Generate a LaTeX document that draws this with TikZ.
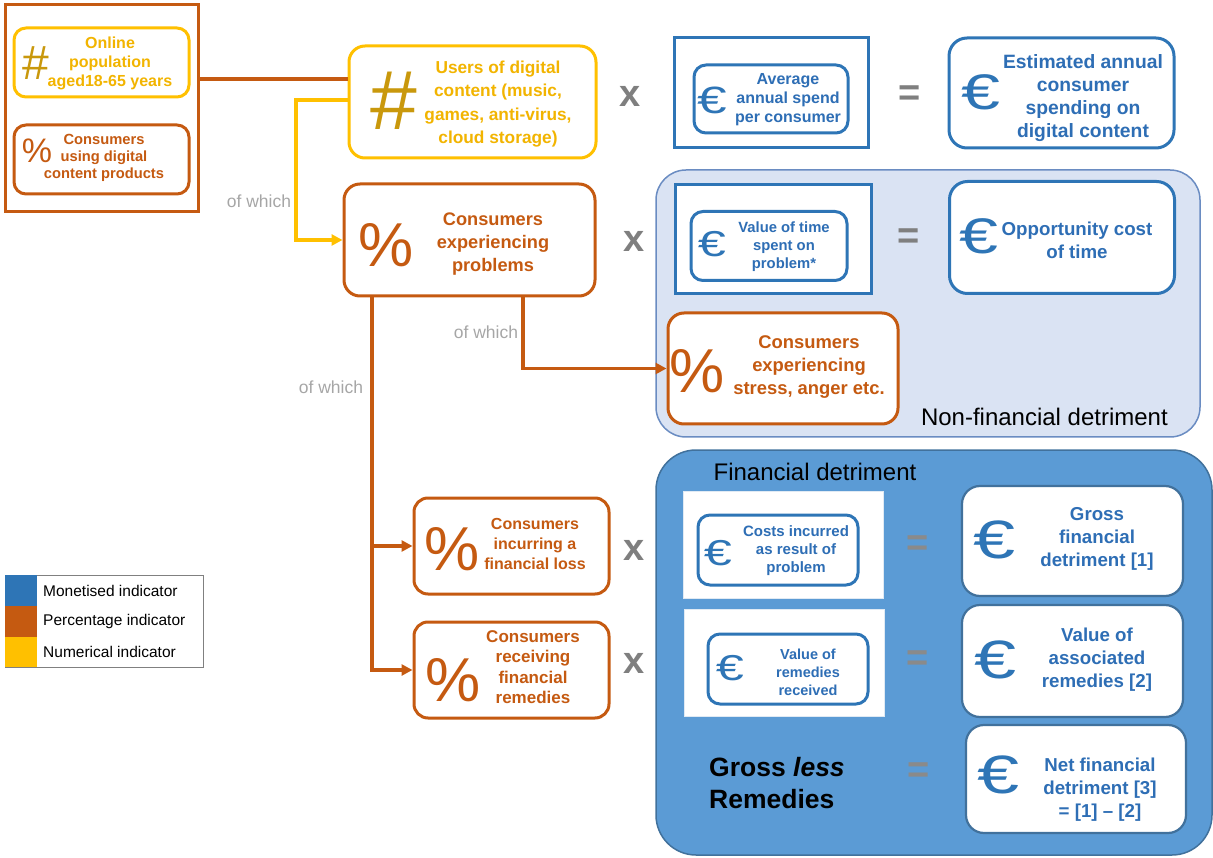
\documentclass[tikz,border=0pt]{standalone}
\usepackage{fontspec}
\setmainfont{Liberation Sans}
\usetikzlibrary{arrows.meta}
\definecolor{brn}{HTML}{C55A11}
\definecolor{ylw}{HTML}{FFC000}
\definecolor{ytx}{HTML}{F2B400}
\definecolor{hsh}{HTML}{C9980C}
\definecolor{blu}{HTML}{2E75B6}
\definecolor{btx}{HTML}{2E6EB5}
\definecolor{nffill}{HTML}{DAE3F3}
\definecolor{nfline}{HTML}{6A8CC2}
\definecolor{ffill}{HTML}{5B9BD5}
\definecolor{fline}{HTML}{41719C}
\definecolor{opgray}{HTML}{7F7F7F}
\definecolor{opgray2}{HTML}{8A8A8A}
\definecolor{owgray}{HTML}{A6A6A6}
\newcommand{\fsz}[2]{\fontsize{#1}{#2}\selectfont}
\newcommand{\eur}{\scalebox{1.4}[1]{€}}
\begin{document}
\begin{tikzpicture}[x=1pt,y=-1pt,
  rbox/.style={draw, rounded corners=14pt, line width=3pt, fill=white, inner sep=0pt},
  sbox/.style={draw, line width=3pt, fill=white, inner sep=0pt},
  txt/.style={align=center, inner sep=0pt},
  sym/.style={inner sep=0pt},
  conn/.style={line width=3.2pt},
  tip/.style={-{Triangle[length=11pt,width=11pt]}},
  opx/.style={inner sep=0pt, font=\bfseries\fsz{38}{38}, text=opgray},
  ofw/.style={inner sep=0pt, font=\fsz{17.5}{18}, text=owgray}
]
\useasboundingbox (0,0) rectangle (1213,858);

% ---- regions
\node[draw=nfline, fill=nffill, line width=1.5pt, rounded corners=30pt, minimum width=544pt, minimum height=267pt, inner sep=0pt] (nonfin) at (928,303.5) {};
\node[draw=fline, fill=ffill, line width=1.5pt, rounded corners=40pt, minimum width=556pt, minimum height=405pt, inner sep=0pt] (fin) at (934,652.5) {};

% ---- left group
\node[sbox, draw=brn, minimum width=193pt, minimum height=207pt] (outer) at (101.5,108.5) {};
\node[rbox, draw=ylw, minimum width=175pt, minimum height=69pt, rounded corners=12pt] (online) at (101.5,62.5) {};
\node[sym, text=hsh, font=\fsz{48}{48}] (onlines) at (36,63) {\#};
\node[txt, text=ytx, font=\bfseries\fsz{16}{19}] (onlinet) at (110,63) {Online\\population\\aged18-65 years};
\node[rbox, draw=brn, minimum width=175pt, minimum height=69pt, rounded corners=12pt] (using) at (101.5,159.5) {};
\node[sym, text=brn, font=\fsz{34}{34}] (usings) at (37,151) {\%};
\node[txt, text=brn, font=\bfseries\fsz{14.7}{17}] (usingt) at (104,158) {Consumers\\using digital\\content products};

% ---- users / problems
\node[rbox, draw=ylw, minimum width=247pt, minimum height=112pt, rounded corners=16pt] (users) at (472.5,102) {};
\node[sym, text=hsh, font=\fsz{84}{84}] (userss) at (394,101) {\#};
\node[txt, text=ytx, font=\bfseries\fsz{17.3}{23.5}] (userst) at (498,104) {Users of digital\\content (music,\\games, anti-virus,\\cloud storage)};
\node[rbox, draw=brn, minimum width=251pt, minimum height=112pt, rounded corners=16pt] (problems) at (469.5,240) {};
\node[sym, text=brn, font=\fsz{62}{62}] (problemss) at (386,245) {\%};
\node[txt, text=brn, font=\bfseries\fsz{18.2}{23}] (problemst) at (493,244) {Consumers\\experiencing\\problems};

% ---- average spend
\node[sbox, draw=blu, minimum width=194pt, minimum height=110pt] (avgo) at (771,93) {};
\node[rbox, draw=blu, minimum width=154pt, minimum height=68pt, rounded corners=12pt] (avgi) at (771,99) {};
\node[sym, text=blu, font=\fsz{38}{38}] (avgs) at (712,100) {\eur};
\node[txt, text=btx, font=\bfseries\fsz{16}{19}] (avgt) at (788,100) {Average\\annual spend\\per consumer};
\node[rbox, draw=blu, minimum width=225pt, minimum height=110pt, rounded corners=18pt] (est) at (1061.5,93) {};
\node[sym, text=blu, font=\fsz{50}{50}] (ests) at (981,92) {\eur};
\node[txt, text=btx, font=\bfseries\fsz{19.3}{23}] (estt) at (1083,98) {Estimated annual\\consumer\\spending on\\digital content};

% ---- time
\node[sbox, draw=blu, minimum width=196pt, minimum height=109pt] (timeo) at (773,239.5) {};
\node[rbox, draw=blu, minimum width=156pt, minimum height=69pt, rounded corners=12pt] (timei) at (769,246) {};
\node[sym, text=blu, font=\fsz{36}{36}] (times) at (712,244) {\eur};
\node[txt, text=btx, font=\bfseries\fsz{14.8}{18}] (timet) at (784,247) {Value of time\\spent on\\problem*};
\node[rbox, draw=blu, minimum width=225pt, minimum height=112pt, rounded corners=18pt] (opp) at (1062,237.5) {};
\node[sym, text=blu, font=\fsz{50}{50}] (opps) at (979,236) {\eur};
\node[txt, text=btx, font=\bfseries\fsz{18.7}{23}] (oppt) at (1077,240) {Opportunity cost\\of time};

% ---- stress
\node[rbox, draw=brn, minimum width=230pt, minimum height=111pt, rounded corners=16pt] (stress) at (783,368.5) {};
\node[sym, text=brn, font=\fsz{62}{62}] (stresss) at (697,371) {\%};
\node[txt, text=brn, font=\bfseries\fsz{18.4}{23}] (stresst) at (809,367) {Consumers\\experiencing\\stress, anger etc.};
\node[inner sep=0pt, font=\fsz{24}{26}, anchor=east] (nftitle) at (1168,417) {Non-financial detriment};

% ---- loss / remedies
\node[rbox, draw=brn, minimum width=195pt, minimum height=96pt, rounded corners=14pt] (loss) at (511.5,546) {};
\node[sym, text=brn, font=\fsz{62}{62}] (losss) at (452,549) {\%};
\node[txt, text=brn, font=\bfseries\fsz{16}{20}] (losst) at (535,544) {Consumers\\incurring a\\financial loss};
\node[rbox, draw=brn, minimum width=195pt, minimum height=96pt, rounded corners=14pt] (rem) at (511.5,670) {};
\node[sym, text=brn, font=\fsz{62}{62}] (rems) at (453,680) {\%};
\node[txt, text=brn, font=\bfseries\fsz{17}{20.5}] (remt) at (533,667) {Consumers\\receiving\\financial\\remedies};

% ---- financial detriment
\node[inner sep=0pt, font=\fsz{24}{26}] (ftitle) at (815,472) {Financial detriment};
\node[draw=white!85!blu, fill=white, line width=1pt, minimum width=200pt, minimum height=107pt, inner sep=0pt] (costo) at (783,544.5) {};
\node[rbox, draw=blu, minimum width=160pt, minimum height=70pt, rounded corners=12pt] (costi) at (778,550) {};
\node[sym, text=blu, font=\fsz{36}{36}] (costs) at (718,553) {\eur};
\node[txt, text=btx, font=\bfseries\fsz{15}{18}] (costt) at (796,551) {Costs incurred\\as result of\\problem};
\node[draw=white!85!blu, fill=white, line width=1pt, minimum width=200pt, minimum height=107pt, inner sep=0pt] (valo) at (784,662.5) {};
\node[rbox, draw=blu, minimum width=160pt, minimum height=70pt, rounded corners=12pt] (vali) at (788,669) {};
\node[sym, text=blu, font=\fsz{36}{36}] (vals) at (730,668) {\eur};
\node[txt, text=btx, font=\bfseries\fsz{14.5}{18}] (valt) at (808,672) {Value of\\remedies\\received};
\node[rbox, draw=fline, minimum width=221pt, minimum height=110pt, rounded corners=18pt, line width=2.2pt] (gross) at (1072.5,541) {};
\node[sym, text=blu, font=\fsz{54}{54}] (grosss) at (995,540) {\eur};
\node[txt, text=btx, font=\bfseries\fsz{18.7}{23}] (grosst) at (1097,539) {Gross\\financial\\detriment [1]};
\node[rbox, draw=fline, minimum width=221pt, minimum height=112pt, rounded corners=18pt, line width=2.2pt] (assoc) at (1072.5,661) {};
\node[sym, text=blu, font=\fsz{54}{54}] (assocs) at (996,660) {\eur};
\node[txt, text=btx, font=\bfseries\fsz{18.7}{23}] (assoct) at (1097,660) {Value of\\associated\\remedies [2]};
\node[rbox, draw=fline, minimum width=220pt, minimum height=108pt, rounded corners=18pt, line width=2.2pt] (net) at (1076,779) {};
\node[sym, text=blu, font=\fsz{54}{54}] (nets) at (999,775) {\eur};
\node[txt, text=btx, font=\bfseries\fsz{18.7}{23}] (nett) at (1100,790) {Net financial\\detriment [3]\\= [1] -- [2]};
\node[inner sep=0pt, font=\bfseries\fsz{26.5}{32}, align=left, anchor=west] (gless) at (709,783) {Gross \textit{less}\\Remedies};

% ---- operators
\node[opx] (x1) at (630,96) {x};
\node[opx] (x2) at (634,241) {x};
\node[opx] (x3) at (634,550) {x};
\node[opx] (x4) at (634,663) {x};
\node[opx] (e1) at (910,96) {=};
\node[opx] (e2) at (909,239) {=};
\node[opx, text=opgray2] (e3) at (918,546) {=};
\node[opx, text=opgray2] (e4) at (918,661) {=};
\node[opx, text=opgray2] (e5) at (919,773) {=};

% ---- connectors
\coordinate (ya) at (0,79);
\coordinate (yb) at (296,100);
\coordinate (pa) at (523,0);
\coordinate (pb) at (372,0);
\draw[conn, brn] (outer.east |- ya) -- (users.west |- ya);
\draw[conn, ylw, tip] (users.west |- yb) -- (yb) |- (problems.west);
\draw[conn, brn, tip] (problems.south -| pa) |- (stress.west);
\draw[conn, brn, tip] (problems.south -| pb) |- (loss.west);
\draw[conn, brn, tip] (problems.south -| pb) |- (rem.west);
\node[ofw] (ow1) at (259,201) {of which};
\node[ofw] (ow2) at (486,332) {of which};
\node[ofw] (ow3) at (331,387) {of which};

% ---- legend
\node[draw=gray, line width=0.8pt, minimum width=198pt, minimum height=92pt, inner sep=0pt] (leg) at (104,621) {};
\fill[blu] (5.4,575.4) rectangle (37,606);
\fill[brn] (5.4,606) rectangle (37,637);
\fill[ylw] (5.4,637) rectangle (37,666.6);
\node[inner sep=0pt, anchor=west, font=\fsz{15.5}{17}] (l1) at (43,591) {Monetised indicator};
\node[inner sep=0pt, anchor=west, font=\fsz{15.5}{17}] (l2) at (43,621) {Percentage indicator};
\node[inner sep=0pt, anchor=west, font=\fsz{15.5}{17}] (l3) at (43,652) {Numerical indicator};
\end{tikzpicture}
\end{document}
